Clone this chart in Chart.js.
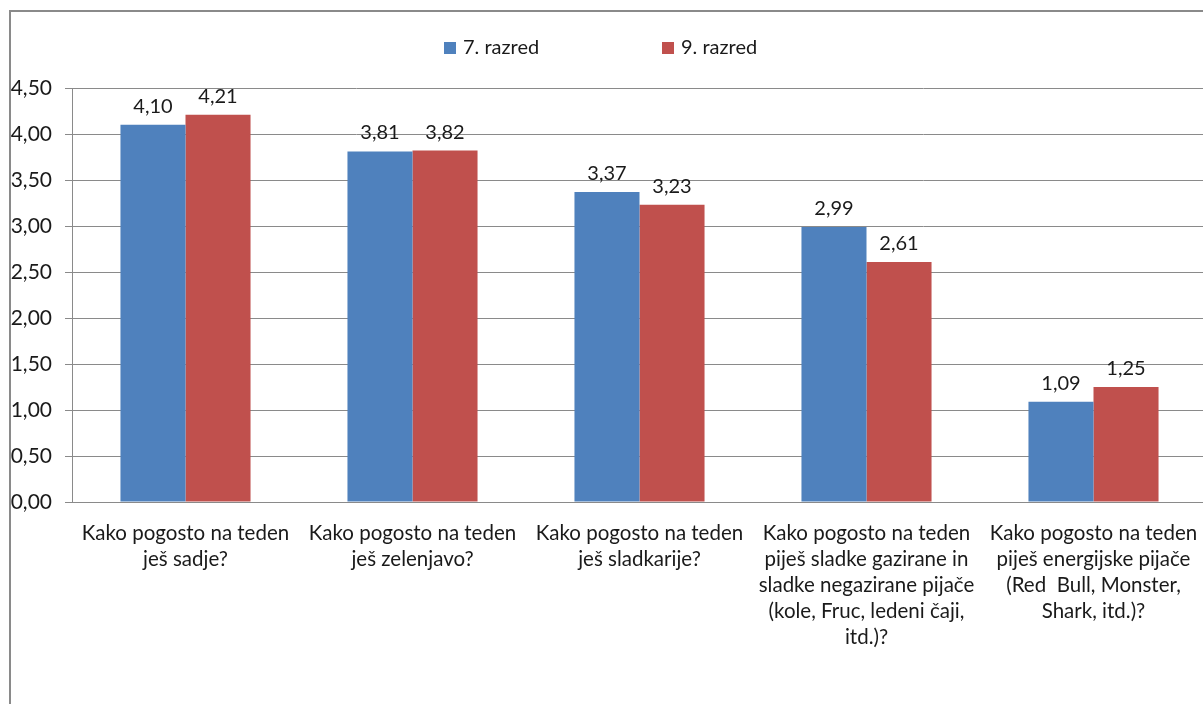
<!DOCTYPE html>
<html>
<head>
<meta charset="utf-8">
<script src="https://cdn.jsdelivr.net/npm/chart.js@4"></script>
<style>
  html, body { margin: 0; padding: 0; background: #fff; overflow: hidden; }
  #wrap { position: absolute; left: 0; top: 0; width: 1215px; height: 704px; }
</style>
</head>
<body>
<div id="wrap"><canvas id="chartPijace"></canvas></div>
<script>
var vprasanja = [
  ["Kako pogosto na teden", "ješ sadje?"],
  ["Kako pogosto na teden", "ješ zelenjavo?"],
  ["Kako pogosto na teden", "ješ sladkarije?"],
  ["Kako pogosto na teden", "piješ sladke gazirane in", "sladke negazirane pijače", "(kole, Fruc, ledeni čaji,", "itd.)?"],
  ["Kako pogosto na teden", "piješ energijske pijače", "(Red  Bull, Monster,", "Shark, itd.)?"]
];
var razred7 = [4.10, 3.81, 3.37, 2.99, 1.09];
var razred9 = [4.21, 3.82, 3.23, 2.61, 1.25];
var yTicks = [0, 0.5, 1, 1.5, 2, 2.5, 3, 3.5, 4, 4.5];

var pisava = "Lato, 'Open Sans', sans-serif";

function vejica(v, d) {
  return v.toFixed(d).replace(".", ",");
}

// frame round the whole chart
var okvir = {
  id: 'okvir',
  beforeDraw: function (chart) {
    var c = chart.ctx;
    c.save();
    c.strokeStyle = '#8a8a8a';
    c.lineWidth = 2;
    c.beginPath();
    c.moveTo(10, 710);
    c.lineTo(10, 11);
    c.lineTo(1215, 11);
    c.stroke();
    c.restore();
  }
};

// values above bars
var vrednosti = {
  id: 'vrednosti',
  afterDatasetsDraw: function (chart) {
    var c = chart.ctx;
    c.save();
    c.font = "20px " + pisava;
    c.fillStyle = '#1a1a1a';
    c.textAlign = 'center';
    c.textBaseline = 'alphabetic';
    chart.data.datasets.forEach(function (ds, i) {
      chart.getDatasetMeta(i).data.forEach(function (bar, j) {
        c.fillText(vejica(ds.data[j], 2), bar.x, bar.y - 12);
      });
    });
    c.restore();
  }
};

// legend at the top, two widely spaced items
var legenda = {
  id: 'legenda',
  afterDraw: function (chart) {
    var c = chart.ctx;
    var xs = [444, 662];
    c.save();
    c.font = "20px " + pisava;
    c.textBaseline = 'middle';
    c.textAlign = 'left';
    chart.data.datasets.forEach(function (ds, i) {
      c.fillStyle = ds.backgroundColor;
      c.fillRect(xs[i], 42, 12, 12);
      c.fillStyle = '#1a1a1a';
      c.fillText(ds.label, xs[i] + 19, 48);
    });
    c.restore();
  }
};

var ctx = document.getElementById('chartPijace').getContext('2d');
var chart = new Chart(ctx, {
  type: 'bar',
  data: {
    labels: vprasanja,
    datasets: [{
      label: '7. razred',
      backgroundColor: '#4f81bd',
      data: razred7
    }, {
      label: '9. razred',
      backgroundColor: '#c0504d',
      data: razred9
    }]
  },
  options: {
    responsive: true,
    maintainAspectRatio: false,
    animation: false,
    layout: { padding: { top: 88, right: 8, left: 0, bottom: 0 } },
    plugins: {
      legend: { display: false },
      tooltip: { enabled: false }
    },
    datasets: {
      bar: { categoryPercentage: 0.573, barPercentage: 1.0 }
    },
    scales: {
      x: {
        grid: { display: false },
        border: { display: true, color: '#8a8a8a', width: 1 },
        ticks: {
          color: '#1a1a1a',
          font: { family: pisava, size: 20.5, lineHeight: 1.27 },
          padding: 10,
          maxRotation: 0,
          autoSkip: false
        },
        afterFit: function (scale) { scale.height = 202; }
      },
      y: {
        min: 0,
        max: 4.5,
        afterBuildTicks: function (scale) {
          scale.ticks = yTicks.map(function (v) { return { value: v }; });
        },
        grid: { color: '#8a8a8a', lineWidth: 1, tickLength: 7 },
        border: { display: true, color: '#8a8a8a', width: 1 },
        ticks: {
          color: '#1a1a1a',
          font: { family: pisava, size: 21 },
          padding: 13,
          callback: function (v) { return vejica(v, 2); }
        },
        afterFit: function (scale) { scale.width = 72; }
      }
    }
  },
  plugins: [okvir, vrednosti, legenda]
});
</script>
</body>
</html>
